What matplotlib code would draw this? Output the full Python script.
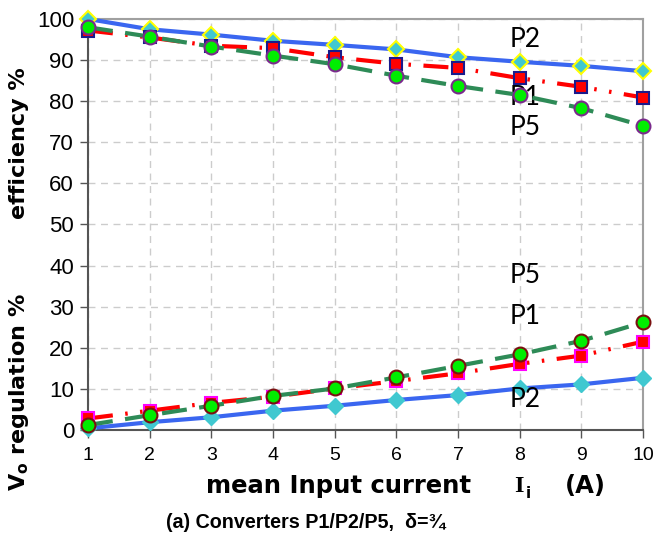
import matplotlib
matplotlib.use("Agg")
import matplotlib.pyplot as plt

current = [1, 2, 3, 4, 5, 6, 7, 8, 9, 10]

eff_p2 = [100.0, 97.5, 96.2, 94.7, 93.7, 92.6, 90.7, 89.6, 88.6, 87.3]
eff_p1 = [97.2, 95.5, 93.5, 92.9, 90.7, 89.1, 88.1, 85.6, 83.5, 80.9]
eff_p5 = [98.0, 95.7, 93.3, 91.1, 89.0, 86.2, 83.7, 81.5, 78.3, 74.0]

reg_p2 = [0.4, 1.9, 3.1, 4.7, 5.9, 7.3, 8.5, 10.1, 11.1, 12.7]
reg_p1 = [2.8, 4.7, 6.6, 8.1, 10.1, 11.9, 13.8, 16.1, 18.1, 21.5]
reg_p5 = [1.2, 3.6, 5.9, 8.3, 10.1, 12.8, 15.6, 18.4, 21.7, 26.2]

yticks = [0, 10, 20, 30, 40, 50, 60, 70, 80, 90, 100]

W, H = 658, 543
fig = plt.figure(figsize=(W / 100, H / 100), dpi=100)
ax = fig.add_axes([88 / W, 1 - 430 / H, (643 - 88) / W, (430 - 19) / H])

blue = "#3a66f0"
red = "#ff0000"
green = "#2e8b57"
cyan = "#40c8d0"
lime = "#00ee00"

p1_ls = (0, (6, 3, 0.6, 3, 0.6, 3))
lw = 3

# efficiency
ax.plot(current, eff_p2, color=blue, lw=lw, marker="D", ms=8, mfc=cyan, mec="#ffff00", mew=1.5, clip_on=False, zorder=3)
ax.plot(current, eff_p1, color=red, lw=lw, ls=p1_ls, marker="s", ms=9, mfc=red, mec="#1a1a8c", mew=1.5, clip_on=False, zorder=4)
ax.plot(current, eff_p5, color=green, lw=lw, ls=(0, (6, 3)), marker="o", ms=10, mfc=lime, mec="#7a2a8c", mew=1.5, clip_on=False, zorder=5)

# regulation
ax.plot(current, reg_p2, color=blue, lw=lw, marker="D", ms=8, mfc=cyan, mec=cyan, mew=1, clip_on=False, zorder=3)
ax.plot(current, reg_p1, color=red, lw=lw, ls=p1_ls, marker="s", ms=9, mfc=red, mec="#ff00ff", mew=1.5, clip_on=False, zorder=4)
ax.plot(current, reg_p5, color=green, lw=lw, ls=(0, (6, 3)), marker="o", ms=10, mfc=lime, mec="#7a1010", mew=1.5, clip_on=False, zorder=5)

ax.set_xlim(1, 10)
ax.set_ylim(0, 100)
ax.set_xticks(current)
ax.set_yticks(yticks)
ax.grid(True, color="#cccccc", ls=(0, (5, 4)), lw=1)
ax.set_axisbelow(True)

for s in ["top", "right"]:
    ax.spines[s].set_color("#a0a0a0")
    ax.spines[s].set_linewidth(1.5)
for s in ["left", "bottom"]:
    ax.spines[s].set_color("#555555")
    ax.spines[s].set_linewidth(1.5)

ax.tick_params(axis="both", direction="out", length=6, color="#555555", width=1)
ax.tick_params(axis="y", labelsize=16, pad=4)
ax.tick_params(axis="x", labelsize=14, pad=6)
for lab in ax.get_yticklabels() + ax.get_xticklabels():
    lab.set_family(["Liberation Sans", "DejaVu Sans"])

lbl = dict(fontsize=19, family=["Calibri", "Lato", "DejaVu Sans"], ha="center", va="center")
for txt, yv in [("P2", 94.9), ("P1", 81.0), ("P5", 73.5), ("P5", 37.7), ("P1", 27.5), ("P2", 7.3)]:
    ax.text(8.09, yv, txt, **lbl)

def fx(px):
    return px / W

def fy(py):
    return 1 - py / H

fig.text(fx(19), fy(143), "efficiency %", rotation=90, fontsize=16, fontweight="bold",
         family="DejaVu Sans", ha="center", va="center")
fig.text(fx(19), fy(392), r"$\mathbf{V_o}$ regulation %", rotation=90, fontsize=16, fontweight="bold",
         family="DejaVu Sans", ha="center", va="center")

fig.text(fx(338), fy(486), "mean Input current", fontsize=17.5, fontweight="bold",
         family="DejaVu Sans", ha="center", va="center")
fig.text(fx(519), fy(486), "I", fontsize=17.5, fontweight="bold",
         family=["Liberation Serif", "DejaVu Serif"], ha="center", va="center")
fig.text(fx(528), fy(493), "i", fontsize=11, fontweight="bold",
         family="DejaVu Sans", ha="center", va="center")
fig.text(fx(585), fy(486), "(A)", fontsize=17.5, fontweight="bold",
         family="DejaVu Sans", ha="center", va="center")

fig.text(fx(306), fy(523), "(a) Converters P1/P2/P5,  δ=¾", fontsize=14.2, fontweight="bold",
         family=["Liberation Sans", "DejaVu Sans"], ha="center", va="center")

fig.savefig("out.png", dpi=100)
